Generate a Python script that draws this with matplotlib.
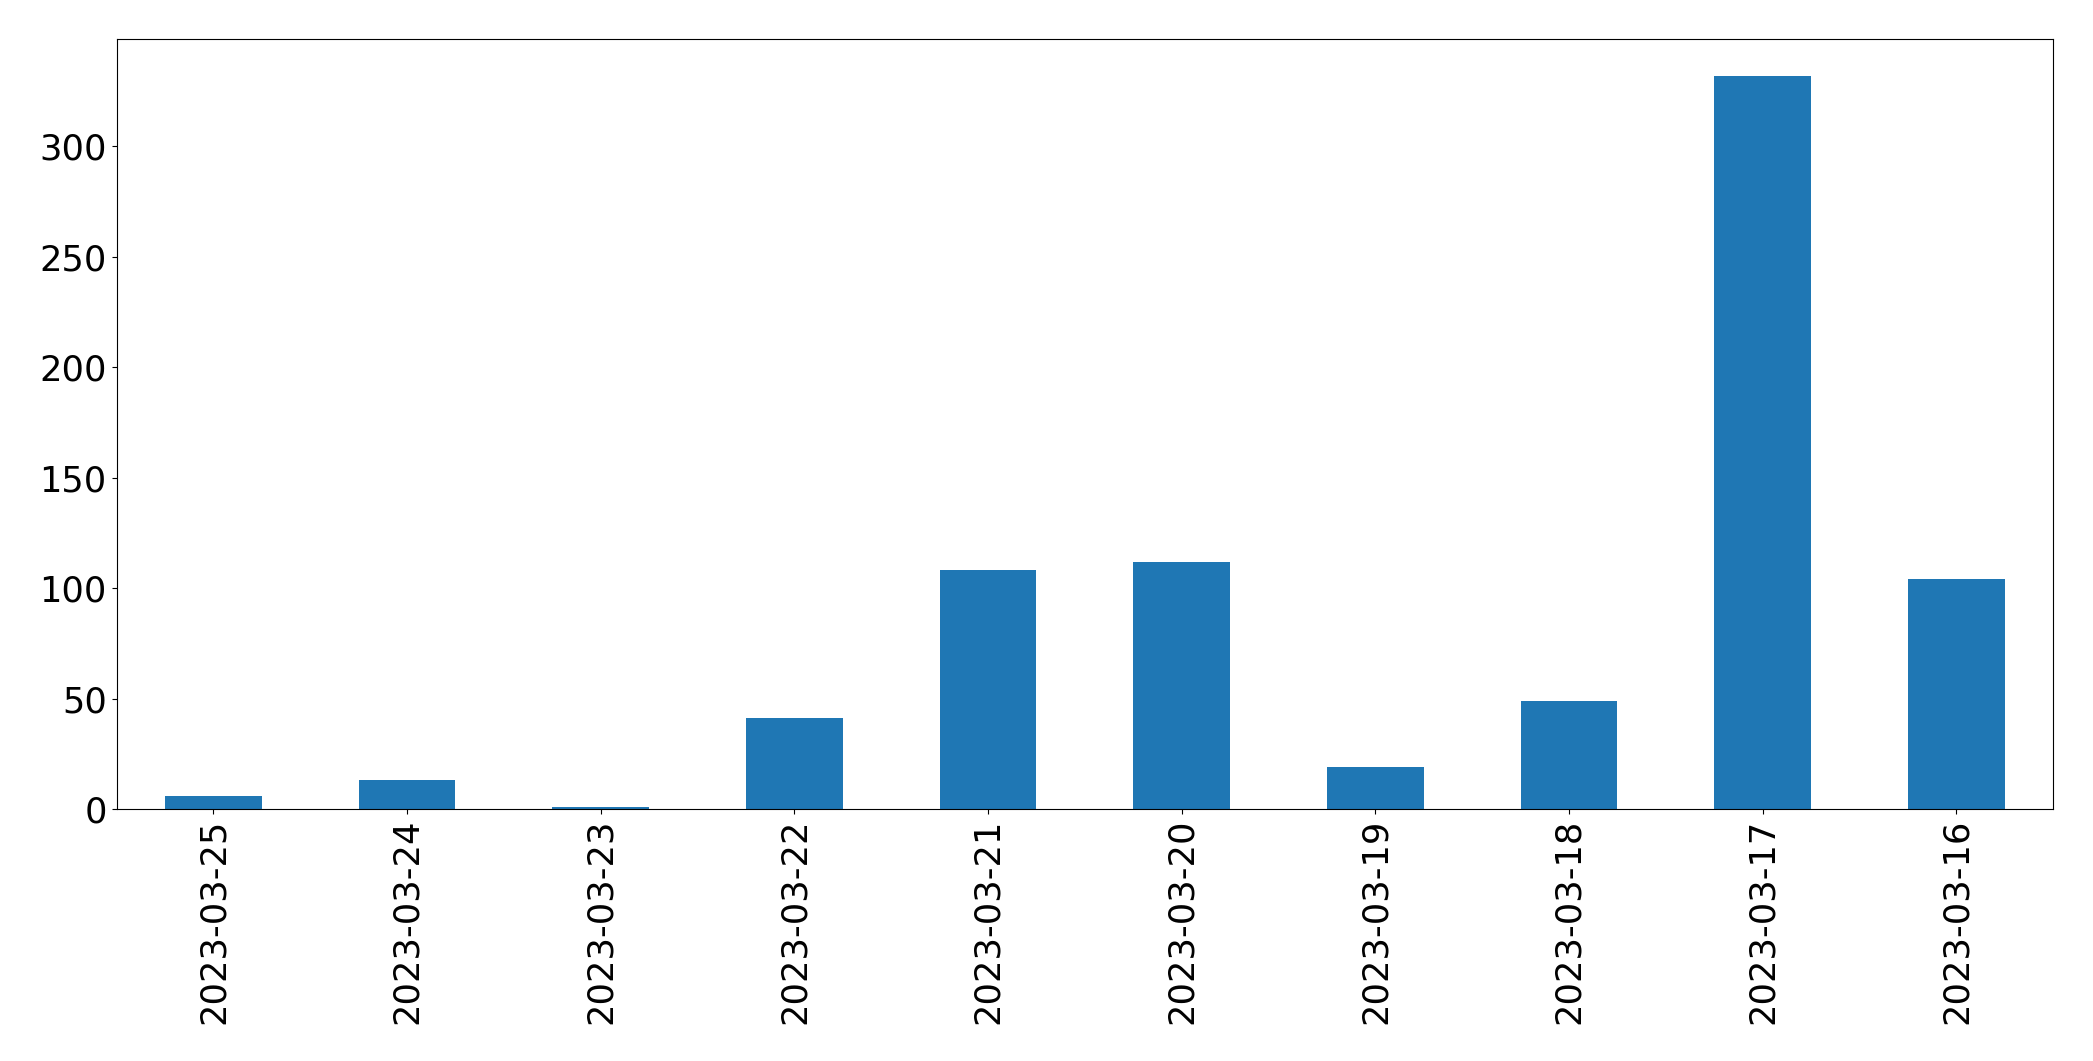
import matplotlib
matplotlib.use("Agg")
import matplotlib.pyplot as plt

# counts per day, in the order shown on the chart
dates = ["2023-03-25", "2023-03-24", "2023-03-23", "2023-03-22", "2023-03-21",
         "2023-03-20", "2023-03-19", "2023-03-18", "2023-03-17", "2023-03-16"]
counts = [6, 13, 1, 41, 108, 112, 19, 49, 332, 104]

fig, ax = plt.subplots(figsize=(20.93, 10.61), dpi=100)
fig.subplots_adjust(left=0.0557, right=0.981, top=0.9632, bottom=0.2375)

x = list(range(len(dates)))
ax.bar(x, counts, width=0.5, color="#1f77b4")
ax.set_xlim(-0.5, len(dates) - 0.5)
ax.set_ylim(0, max(counts) * 1.05)
ax.set_xticks(x)
ax.set_xticklabels(dates, rotation=90)
ax.tick_params(axis="both", labelsize=25.4)

fig.savefig("out.png")
